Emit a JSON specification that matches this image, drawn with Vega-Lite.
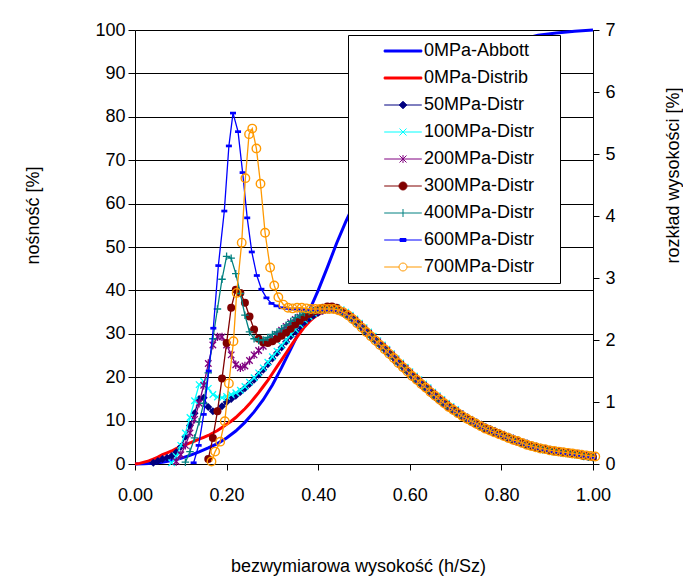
{
"$schema": "https://vega.github.io/schema/vega-lite/v6.json",
"width": 458, "height": 434,
"autosize": {"type": "none"},
"padding": {"left": 135, "top": 30, "right": 90, "bottom": 115},
"background": "white",
"config": {
  "font": "Liberation Sans",
  "view": {"stroke": null},
  "axis": {"labelFont": "Liberation Sans", "titleFont": "Liberation Sans", "labelFontSize": 18, "titleFontSize": 18, "titleFontWeight": "normal", "labelColor": "black", "titleColor": "black", "domainColor": "black", "tickColor": "black", "labelFlush": false, "labelOverlap": false}
},
"data": {"values": [
{"s":"A","x":0,"n":0},{"s":"A","x":0.02,"n":0.03},{"s":"A","x":0.04,"n":0.15},{"s":"A","x":0.06,"n":0.4},{"s":"A","x":0.08,"n":0.8},{"s":"A","x":0.1,"n":1.3},{"s":"A","x":0.12,"n":2.0},{"s":"A","x":0.14,"n":2.8},{"s":"A","x":0.16,"n":3.7},{"s":"A","x":0.18,"n":4.7},{"s":"A","x":0.2,"n":6.0},{"s":"A","x":0.22,"n":7.6},{"s":"A","x":0.24,"n":9.6},{"s":"A","x":0.26,"n":12.0},{"s":"A","x":0.28,"n":14.8},{"s":"A","x":0.3,"n":18.2},{"s":"A","x":0.32,"n":22.2},{"s":"A","x":0.34,"n":26.5},{"s":"A","x":0.36,"n":30.8},{"s":"A","x":0.38,"n":35.2},{"s":"A","x":0.4,"n":40.0},{"s":"A","x":0.42,"n":45.3},{"s":"A","x":0.44,"n":50.8},{"s":"A","x":0.46,"n":55.8},{"s":"A","x":0.48,"n":60.3},{"s":"A","x":0.5,"n":64.5},{"s":"A","x":0.55,"n":73.8},{"s":"A","x":0.6,"n":81.2},{"s":"A","x":0.65,"n":87.0},{"s":"A","x":0.7,"n":91.3},{"s":"A","x":0.75,"n":94.4},{"s":"A","x":0.8,"n":96.6},{"s":"A","x":0.85,"n":98.0},{"s":"A","x":0.88,"n":98.8},{"s":"A","x":0.92,"n":99.3},{"s":"A","x":0.96,"n":99.7},{"s":"A","x":1.0,"n":100},
{"s":"D","x":0,"r":0},{"s":"D","x":0.01,"r":0.01},{"s":"D","x":0.02,"r":0.03},{"s":"D","x":0.03,"r":0.05},{"s":"D","x":0.04,"r":0.08},{"s":"D","x":0.05,"r":0.11},{"s":"D","x":0.06,"r":0.15},{"s":"D","x":0.07,"r":0.18},{"s":"D","x":0.08,"r":0.21},{"s":"D","x":0.09,"r":0.25},{"s":"D","x":0.1,"r":0.28},{"s":"D","x":0.11,"r":0.31},{"s":"D","x":0.12,"r":0.34},{"s":"D","x":0.13,"r":0.37},{"s":"D","x":0.14,"r":0.4},{"s":"D","x":0.15,"r":0.43},{"s":"D","x":0.16,"r":0.46},{"s":"D","x":0.17,"r":0.5},{"s":"D","x":0.18,"r":0.54},{"s":"D","x":0.19,"r":0.59},{"s":"D","x":0.2,"r":0.64},{"s":"D","x":0.21,"r":0.69},{"s":"D","x":0.22,"r":0.75},{"s":"D","x":0.23,"r":0.82},{"s":"D","x":0.24,"r":0.89},{"s":"D","x":0.25,"r":0.97},{"s":"D","x":0.26,"r":1.06},{"s":"D","x":0.27,"r":1.15},{"s":"D","x":0.28,"r":1.25},{"s":"D","x":0.29,"r":1.35},{"s":"D","x":0.3,"r":1.46},{"s":"D","x":0.31,"r":1.57},{"s":"D","x":0.32,"r":1.68},{"s":"D","x":0.33,"r":1.79},{"s":"D","x":0.34,"r":1.9},{"s":"D","x":0.35,"r":2.01},{"s":"D","x":0.36,"r":2.11},{"s":"D","x":0.37,"r":2.21},{"s":"D","x":0.38,"r":2.29},{"s":"D","x":0.39,"r":2.36},{"s":"D","x":0.4,"r":2.41},{"s":"D","x":0.41,"r":2.45},{"s":"D","x":0.42,"r":2.47},{"s":"D","x":0.43,"r":2.48},{"s":"D","x":0.44,"r":2.47},{"s":"D","x":0.45,"r":2.45},{"s":"D","x":0.46,"r":2.41},{"s":"D","x":0.47,"r":2.36},{"s":"D","x":0.48,"r":2.3},{"s":"D","x":0.49,"r":2.23},{"s":"D","x":0.5,"r":2.16},{"s":"D","x":0.51,"r":2.09},{"s":"D","x":0.52,"r":2.02},{"s":"D","x":0.53,"r":1.95},{"s":"D","x":0.54,"r":1.88},{"s":"D","x":0.55,"r":1.81},{"s":"D","x":0.56,"r":1.74},{"s":"D","x":0.57,"r":1.66},{"s":"D","x":0.58,"r":1.58},{"s":"D","x":0.59,"r":1.5},{"s":"D","x":0.6,"r":1.42},{"s":"D","x":0.61,"r":1.34},{"s":"D","x":0.62,"r":1.28},{"s":"D","x":0.63,"r":1.21},{"s":"D","x":0.64,"r":1.15},{"s":"D","x":0.65,"r":1.08},{"s":"D","x":0.66,"r":1.02},{"s":"D","x":0.67,"r":0.96},{"s":"D","x":0.68,"r":0.9},{"s":"D","x":0.69,"r":0.85},{"s":"D","x":0.7,"r":0.8},{"s":"D","x":0.71,"r":0.75},{"s":"D","x":0.72,"r":0.7},{"s":"D","x":0.73,"r":0.66},{"s":"D","x":0.74,"r":0.62},{"s":"D","x":0.75,"r":0.58},{"s":"D","x":0.76,"r":0.54},{"s":"D","x":0.77,"r":0.51},{"s":"D","x":0.78,"r":0.48},{"s":"D","x":0.79,"r":0.45},{"s":"D","x":0.8,"r":0.42},{"s":"D","x":0.81,"r":0.39},{"s":"D","x":0.82,"r":0.36},{"s":"D","x":0.83,"r":0.33},{"s":"D","x":0.84,"r":0.31},{"s":"D","x":0.85,"r":0.28},{"s":"D","x":0.86,"r":0.26},{"s":"D","x":0.87,"r":0.24},{"s":"D","x":0.88,"r":0.22},{"s":"D","x":0.89,"r":0.21},{"s":"D","x":0.9,"r":0.2},{"s":"D","x":0.91,"r":0.19},{"s":"D","x":0.92,"r":0.18},{"s":"D","x":0.93,"r":0.17},{"s":"D","x":0.94,"r":0.16},{"s":"D","x":0.95,"r":0.15},{"s":"D","x":0.96,"r":0.14},{"s":"D","x":0.97,"r":0.13},{"s":"D","x":0.98,"r":0.12},{"s":"D","x":0.99,"r":0.11},{"s":"D","x":1.0,"r":0.1},
{"s":"50","x":0.04,"r":0.02},{"s":"50","x":0.05,"r":0.05},{"s":"50","x":0.06,"r":0.08},{"s":"50","x":0.07,"r":0.1},{"s":"50","x":0.08,"r":0.13},{"s":"50","x":0.09,"r":0.19},{"s":"50","x":0.1,"r":0.28},{"s":"50","x":0.11,"r":0.44},{"s":"50","x":0.12,"r":0.62},{"s":"50","x":0.13,"r":0.82},{"s":"50","x":0.14,"r":1.05},{"s":"50","x":0.15,"r":1.07},{"s":"50","x":0.16,"r":0.92},{"s":"50","x":0.17,"r":0.85},{"s":"50","x":0.18,"r":0.86},{"s":"50","x":0.19,"r":0.93},{"s":"50","x":0.2,"r":1.0},{"s":"50","x":0.21,"r":1.05},{"s":"50","x":0.22,"r":1.1},{"s":"50","x":0.23,"r":1.16},{"s":"50","x":0.24,"r":1.22},{"s":"50","x":0.25,"r":1.29},{"s":"50","x":0.26,"r":1.36},{"s":"50","x":0.27,"r":1.44},{"s":"50","x":0.28,"r":1.52},{"s":"50","x":0.29,"r":1.61},{"s":"50","x":0.3,"r":1.7},{"s":"50","x":0.31,"r":1.79},{"s":"50","x":0.32,"r":1.88},{"s":"50","x":0.33,"r":1.97},{"s":"50","x":0.34,"r":2.06},{"s":"50","x":0.35,"r":2.14},{"s":"50","x":0.36,"r":2.22},{"s":"50","x":0.37,"r":2.29},{"s":"50","x":0.38,"r":2.35},{"s":"50","x":0.39,"r":2.4},{"s":"50","x":0.4,"r":2.44},{"s":"50","x":0.41,"r":2.47},{"s":"50","x":0.42,"r":2.49},{"s":"50","x":0.43,"r":2.5},{"s":"50","x":0.44,"r":2.49},{"s":"50","x":0.45,"r":2.46},{"s":"50","x":0.46,"r":2.42},{"s":"50","x":0.47,"r":2.37},{"s":"50","x":0.48,"r":2.31},{"s":"50","x":0.49,"r":2.24},{"s":"50","x":0.5,"r":2.17},{"s":"50","x":0.51,"r":2.1},{"s":"50","x":0.52,"r":2.03},{"s":"50","x":0.53,"r":1.96},{"s":"50","x":0.54,"r":1.89},{"s":"50","x":0.55,"r":1.82},{"s":"50","x":0.56,"r":1.75},{"s":"50","x":0.57,"r":1.67},{"s":"50","x":0.58,"r":1.6},{"s":"50","x":0.59,"r":1.53},{"s":"50","x":0.6,"r":1.46},{"s":"50","x":0.61,"r":1.39},{"s":"50","x":0.62,"r":1.33},{"s":"50","x":0.63,"r":1.26},{"s":"50","x":0.64,"r":1.2},{"s":"50","x":0.65,"r":1.13},{"s":"50","x":0.66,"r":1.07},{"s":"50","x":0.67,"r":1.01},{"s":"50","x":0.68,"r":0.95},{"s":"50","x":0.69,"r":0.9},{"s":"50","x":0.7,"r":0.85},{"s":"50","x":0.71,"r":0.8},{"s":"50","x":0.72,"r":0.75},{"s":"50","x":0.73,"r":0.71},{"s":"50","x":0.74,"r":0.67},{"s":"50","x":0.75,"r":0.63},{"s":"50","x":0.76,"r":0.59},{"s":"50","x":0.77,"r":0.56},{"s":"50","x":0.78,"r":0.53},{"s":"50","x":0.79,"r":0.5},{"s":"50","x":0.8,"r":0.47},{"s":"50","x":0.81,"r":0.44},{"s":"50","x":0.82,"r":0.41},{"s":"50","x":0.83,"r":0.38},{"s":"50","x":0.84,"r":0.35},{"s":"50","x":0.85,"r":0.33},{"s":"50","x":0.86,"r":0.3},{"s":"50","x":0.87,"r":0.28},{"s":"50","x":0.88,"r":0.26},{"s":"50","x":0.89,"r":0.24},{"s":"50","x":0.9,"r":0.23},{"s":"50","x":0.91,"r":0.21},{"s":"50","x":0.92,"r":0.2},{"s":"50","x":0.93,"r":0.19},{"s":"50","x":0.94,"r":0.18},{"s":"50","x":0.95,"r":0.17},{"s":"50","x":0.96,"r":0.16},{"s":"50","x":0.97,"r":0.15},{"s":"50","x":0.98,"r":0.13},{"s":"50","x":0.99,"r":0.12},{"s":"50","x":1.0,"r":0.11},
{"s":"100","x":0.08,"r":0.02},{"s":"100","x":0.09,"r":0.12},{"s":"100","x":0.1,"r":0.3},{"s":"100","x":0.11,"r":0.5},{"s":"100","x":0.12,"r":0.75},{"s":"100","x":0.13,"r":1.02},{"s":"100","x":0.14,"r":1.28},{"s":"100","x":0.15,"r":1.33},{"s":"100","x":0.16,"r":1.22},{"s":"100","x":0.17,"r":1.12},{"s":"100","x":0.18,"r":1.08},{"s":"100","x":0.19,"r":1.07},{"s":"100","x":0.2,"r":1.09},{"s":"100","x":0.21,"r":1.12},{"s":"100","x":0.22,"r":1.15},{"s":"100","x":0.23,"r":1.19},{"s":"100","x":0.24,"r":1.25},{"s":"100","x":0.25,"r":1.32},{"s":"100","x":0.26,"r":1.39},{"s":"100","x":0.27,"r":1.47},{"s":"100","x":0.28,"r":1.55},{"s":"100","x":0.29,"r":1.64},{"s":"100","x":0.3,"r":1.73},{"s":"100","x":0.31,"r":1.82},{"s":"100","x":0.32,"r":1.91},{"s":"100","x":0.33,"r":2.0},{"s":"100","x":0.34,"r":2.09},{"s":"100","x":0.35,"r":2.17},{"s":"100","x":0.36,"r":2.25},{"s":"100","x":0.37,"r":2.32},{"s":"100","x":0.38,"r":2.38},{"s":"100","x":0.39,"r":2.43},{"s":"100","x":0.4,"r":2.47},{"s":"100","x":0.41,"r":2.5},{"s":"100","x":0.42,"r":2.52},{"s":"100","x":0.43,"r":2.53},{"s":"100","x":0.44,"r":2.52},{"s":"100","x":0.45,"r":2.49},{"s":"100","x":0.46,"r":2.45},{"s":"100","x":0.47,"r":2.4},{"s":"100","x":0.48,"r":2.34},{"s":"100","x":0.49,"r":2.27},{"s":"100","x":0.5,"r":2.2},{"s":"100","x":0.51,"r":2.13},{"s":"100","x":0.52,"r":2.06},{"s":"100","x":0.53,"r":1.99},{"s":"100","x":0.54,"r":1.92},{"s":"100","x":0.55,"r":1.85},{"s":"100","x":0.56,"r":1.78},{"s":"100","x":0.57,"r":1.7},{"s":"100","x":0.58,"r":1.63},{"s":"100","x":0.59,"r":1.56},{"s":"100","x":0.6,"r":1.49},{"s":"100","x":0.61,"r":1.42},{"s":"100","x":0.62,"r":1.36},{"s":"100","x":0.63,"r":1.29},{"s":"100","x":0.64,"r":1.23},{"s":"100","x":0.65,"r":1.16},{"s":"100","x":0.66,"r":1.1},{"s":"100","x":0.67,"r":1.04},{"s":"100","x":0.68,"r":0.98},{"s":"100","x":0.69,"r":0.93},{"s":"100","x":0.7,"r":0.88},{"s":"100","x":0.71,"r":0.81},{"s":"100","x":0.72,"r":0.76},{"s":"100","x":0.73,"r":0.72},{"s":"100","x":0.74,"r":0.68},{"s":"100","x":0.75,"r":0.64},{"s":"100","x":0.76,"r":0.6},{"s":"100","x":0.77,"r":0.57},{"s":"100","x":0.78,"r":0.54},{"s":"100","x":0.79,"r":0.51},{"s":"100","x":0.8,"r":0.48},{"s":"100","x":0.81,"r":0.45},{"s":"100","x":0.82,"r":0.42},{"s":"100","x":0.83,"r":0.39},{"s":"100","x":0.84,"r":0.36},{"s":"100","x":0.85,"r":0.34},{"s":"100","x":0.86,"r":0.31},{"s":"100","x":0.87,"r":0.29},{"s":"100","x":0.88,"r":0.27},{"s":"100","x":0.89,"r":0.25},{"s":"100","x":0.9,"r":0.24},{"s":"100","x":0.91,"r":0.22},{"s":"100","x":0.92,"r":0.21},{"s":"100","x":0.93,"r":0.2},{"s":"100","x":0.94,"r":0.19},{"s":"100","x":0.95,"r":0.18},{"s":"100","x":0.96,"r":0.17},{"s":"100","x":0.97,"r":0.16},{"s":"100","x":0.98,"r":0.14},{"s":"100","x":0.99,"r":0.13},{"s":"100","x":1.0,"r":0.12},
{"s":"200","x":0.09,"r":0.04},{"s":"200","x":0.1,"r":0.15},{"s":"200","x":0.11,"r":0.3},{"s":"200","x":0.12,"r":0.5},{"s":"200","x":0.13,"r":0.72},{"s":"200","x":0.14,"r":0.98},{"s":"200","x":0.15,"r":1.27},{"s":"200","x":0.16,"r":1.62},{"s":"200","x":0.17,"r":1.92},{"s":"200","x":0.18,"r":2.05},{"s":"200","x":0.19,"r":2.05},{"s":"200","x":0.2,"r":1.92},{"s":"200","x":0.21,"r":1.76},{"s":"200","x":0.22,"r":1.6},{"s":"200","x":0.23,"r":1.55},{"s":"200","x":0.24,"r":1.58},{"s":"200","x":0.25,"r":1.67},{"s":"200","x":0.26,"r":1.76},{"s":"200","x":0.27,"r":1.83},{"s":"200","x":0.28,"r":1.9},{"s":"200","x":0.29,"r":1.97},{"s":"200","x":0.3,"r":2.03},{"s":"200","x":0.31,"r":2.09},{"s":"200","x":0.32,"r":2.16},{"s":"200","x":0.33,"r":2.22},{"s":"200","x":0.34,"r":2.28},{"s":"200","x":0.35,"r":2.33},{"s":"200","x":0.36,"r":2.37},{"s":"200","x":0.37,"r":2.41},{"s":"200","x":0.38,"r":2.44},{"s":"200","x":0.39,"r":2.46},{"s":"200","x":0.4,"r":2.47},{"s":"200","x":0.41,"r":2.48},{"s":"200","x":0.42,"r":2.5},{"s":"200","x":0.43,"r":2.5},{"s":"200","x":0.44,"r":2.49},{"s":"200","x":0.45,"r":2.47},{"s":"200","x":0.46,"r":2.43},{"s":"200","x":0.47,"r":2.38},{"s":"200","x":0.48,"r":2.32},{"s":"200","x":0.49,"r":2.25},{"s":"200","x":0.5,"r":2.18},{"s":"200","x":0.51,"r":2.11},{"s":"200","x":0.52,"r":2.04},{"s":"200","x":0.53,"r":1.97},{"s":"200","x":0.54,"r":1.9},{"s":"200","x":0.55,"r":1.83},{"s":"200","x":0.56,"r":1.76},{"s":"200","x":0.57,"r":1.68},{"s":"200","x":0.58,"r":1.61},{"s":"200","x":0.59,"r":1.54},{"s":"200","x":0.6,"r":1.47},{"s":"200","x":0.61,"r":1.4},{"s":"200","x":0.62,"r":1.34},{"s":"200","x":0.63,"r":1.27},{"s":"200","x":0.64,"r":1.21},{"s":"200","x":0.65,"r":1.14},{"s":"200","x":0.66,"r":1.08},{"s":"200","x":0.67,"r":1.02},{"s":"200","x":0.68,"r":0.96},{"s":"200","x":0.69,"r":0.91},{"s":"200","x":0.7,"r":0.86},{"s":"200","x":0.71,"r":0.81},{"s":"200","x":0.72,"r":0.76},{"s":"200","x":0.73,"r":0.72},{"s":"200","x":0.74,"r":0.68},{"s":"200","x":0.75,"r":0.64},{"s":"200","x":0.76,"r":0.6},{"s":"200","x":0.77,"r":0.57},{"s":"200","x":0.78,"r":0.54},{"s":"200","x":0.79,"r":0.51},{"s":"200","x":0.8,"r":0.48},{"s":"200","x":0.81,"r":0.45},{"s":"200","x":0.82,"r":0.42},{"s":"200","x":0.83,"r":0.39},{"s":"200","x":0.84,"r":0.36},{"s":"200","x":0.85,"r":0.34},{"s":"200","x":0.86,"r":0.31},{"s":"200","x":0.87,"r":0.29},{"s":"200","x":0.88,"r":0.27},{"s":"200","x":0.89,"r":0.25},{"s":"200","x":0.9,"r":0.24},{"s":"200","x":0.91,"r":0.22},{"s":"200","x":0.92,"r":0.21},{"s":"200","x":0.93,"r":0.2},{"s":"200","x":0.94,"r":0.19},{"s":"200","x":0.95,"r":0.18},{"s":"200","x":0.96,"r":0.17},{"s":"200","x":0.97,"r":0.16},{"s":"200","x":0.98,"r":0.14},{"s":"200","x":0.99,"r":0.13},{"s":"200","x":1.0,"r":0.12},
{"s":"300","x":0.16,"r":0.08},{"s":"300","x":0.17,"r":0.42},{"s":"300","x":0.18,"r":0.85},{"s":"300","x":0.19,"r":1.38},{"s":"300","x":0.2,"r":1.95},{"s":"300","x":0.21,"r":2.52},{"s":"300","x":0.22,"r":2.81},{"s":"300","x":0.23,"r":2.76},{"s":"300","x":0.24,"r":2.6},{"s":"300","x":0.25,"r":2.38},{"s":"300","x":0.26,"r":2.17},{"s":"300","x":0.27,"r":2.02},{"s":"300","x":0.28,"r":1.96},{"s":"300","x":0.29,"r":1.95},{"s":"300","x":0.3,"r":1.98},{"s":"300","x":0.31,"r":2.02},{"s":"300","x":0.32,"r":2.07},{"s":"300","x":0.33,"r":2.12},{"s":"300","x":0.34,"r":2.18},{"s":"300","x":0.35,"r":2.25},{"s":"300","x":0.36,"r":2.31},{"s":"300","x":0.37,"r":2.37},{"s":"300","x":0.38,"r":2.42},{"s":"300","x":0.39,"r":2.46},{"s":"300","x":0.4,"r":2.49},{"s":"300","x":0.41,"r":2.52},{"s":"300","x":0.42,"r":2.54},{"s":"300","x":0.43,"r":2.54},{"s":"300","x":0.44,"r":2.52},{"s":"300","x":0.45,"r":2.46},{"s":"300","x":0.46,"r":2.42},{"s":"300","x":0.47,"r":2.37},{"s":"300","x":0.48,"r":2.31},{"s":"300","x":0.49,"r":2.24},{"s":"300","x":0.5,"r":2.17},{"s":"300","x":0.51,"r":2.1},{"s":"300","x":0.52,"r":2.03},{"s":"300","x":0.53,"r":1.96},{"s":"300","x":0.54,"r":1.89},{"s":"300","x":0.55,"r":1.82},{"s":"300","x":0.56,"r":1.75},{"s":"300","x":0.57,"r":1.67},{"s":"300","x":0.58,"r":1.6},{"s":"300","x":0.59,"r":1.53},{"s":"300","x":0.6,"r":1.46},{"s":"300","x":0.61,"r":1.39},{"s":"300","x":0.62,"r":1.33},{"s":"300","x":0.63,"r":1.26},{"s":"300","x":0.64,"r":1.2},{"s":"300","x":0.65,"r":1.13},{"s":"300","x":0.66,"r":1.07},{"s":"300","x":0.67,"r":1.01},{"s":"300","x":0.68,"r":0.95},{"s":"300","x":0.69,"r":0.9},{"s":"300","x":0.7,"r":0.85},{"s":"300","x":0.71,"r":0.8},{"s":"300","x":0.72,"r":0.75},{"s":"300","x":0.73,"r":0.71},{"s":"300","x":0.74,"r":0.67},{"s":"300","x":0.75,"r":0.63},{"s":"300","x":0.76,"r":0.59},{"s":"300","x":0.77,"r":0.56},{"s":"300","x":0.78,"r":0.53},{"s":"300","x":0.79,"r":0.5},{"s":"300","x":0.8,"r":0.47},{"s":"300","x":0.81,"r":0.44},{"s":"300","x":0.82,"r":0.41},{"s":"300","x":0.83,"r":0.38},{"s":"300","x":0.84,"r":0.35},{"s":"300","x":0.85,"r":0.33},{"s":"300","x":0.86,"r":0.3},{"s":"300","x":0.87,"r":0.28},{"s":"300","x":0.88,"r":0.26},{"s":"300","x":0.89,"r":0.24},{"s":"300","x":0.9,"r":0.23},{"s":"300","x":0.91,"r":0.21},{"s":"300","x":0.92,"r":0.2},{"s":"300","x":0.93,"r":0.19},{"s":"300","x":0.94,"r":0.18},{"s":"300","x":0.95,"r":0.17},{"s":"300","x":0.96,"r":0.16},{"s":"300","x":0.97,"r":0.15},{"s":"300","x":0.98,"r":0.13},{"s":"300","x":0.99,"r":0.12},{"s":"300","x":1.0,"r":0.11},
{"s":"400","x":0.11,"r":0.03},{"s":"400","x":0.12,"r":0.2},{"s":"400","x":0.13,"r":0.42},{"s":"400","x":0.14,"r":0.68},{"s":"400","x":0.15,"r":0.98},{"s":"400","x":0.16,"r":1.47},{"s":"400","x":0.17,"r":2.02},{"s":"400","x":0.18,"r":2.5},{"s":"400","x":0.19,"r":2.98},{"s":"400","x":0.2,"r":3.35},{"s":"400","x":0.21,"r":3.32},{"s":"400","x":0.22,"r":3.07},{"s":"400","x":0.23,"r":2.75},{"s":"400","x":0.24,"r":2.4},{"s":"400","x":0.25,"r":2.13},{"s":"400","x":0.26,"r":2.02},{"s":"400","x":0.27,"r":1.99},{"s":"400","x":0.28,"r":2.0},{"s":"400","x":0.29,"r":2.04},{"s":"400","x":0.3,"r":2.09},{"s":"400","x":0.31,"r":2.13},{"s":"400","x":0.32,"r":2.18},{"s":"400","x":0.33,"r":2.24},{"s":"400","x":0.34,"r":2.3},{"s":"400","x":0.35,"r":2.36},{"s":"400","x":0.36,"r":2.4},{"s":"400","x":0.37,"r":2.44},{"s":"400","x":0.38,"r":2.46},{"s":"400","x":0.39,"r":2.47},{"s":"400","x":0.4,"r":2.48},{"s":"400","x":0.41,"r":2.49},{"s":"400","x":0.42,"r":2.5},{"s":"400","x":0.43,"r":2.5},{"s":"400","x":0.44,"r":2.49},{"s":"400","x":0.45,"r":2.45},{"s":"400","x":0.46,"r":2.41},{"s":"400","x":0.47,"r":2.36},{"s":"400","x":0.48,"r":2.3},{"s":"400","x":0.49,"r":2.23},{"s":"400","x":0.5,"r":2.16},{"s":"400","x":0.51,"r":2.09},{"s":"400","x":0.52,"r":2.02},{"s":"400","x":0.53,"r":1.95},{"s":"400","x":0.54,"r":1.88},{"s":"400","x":0.55,"r":1.81},{"s":"400","x":0.56,"r":1.74},{"s":"400","x":0.57,"r":1.66},{"s":"400","x":0.58,"r":1.59},{"s":"400","x":0.59,"r":1.52},{"s":"400","x":0.6,"r":1.45},{"s":"400","x":0.61,"r":1.38},{"s":"400","x":0.62,"r":1.32},{"s":"400","x":0.63,"r":1.25},{"s":"400","x":0.64,"r":1.19},{"s":"400","x":0.65,"r":1.12},{"s":"400","x":0.66,"r":1.06},{"s":"400","x":0.67,"r":1.0},{"s":"400","x":0.68,"r":0.94},{"s":"400","x":0.69,"r":0.89},{"s":"400","x":0.7,"r":0.84},{"s":"400","x":0.71,"r":0.79},{"s":"400","x":0.72,"r":0.74},{"s":"400","x":0.73,"r":0.7},{"s":"400","x":0.74,"r":0.66},{"s":"400","x":0.75,"r":0.62},{"s":"400","x":0.76,"r":0.58},{"s":"400","x":0.77,"r":0.55},{"s":"400","x":0.78,"r":0.52},{"s":"400","x":0.79,"r":0.49},{"s":"400","x":0.8,"r":0.46},{"s":"400","x":0.81,"r":0.43},{"s":"400","x":0.82,"r":0.4},{"s":"400","x":0.83,"r":0.37},{"s":"400","x":0.84,"r":0.34},{"s":"400","x":0.85,"r":0.32},{"s":"400","x":0.86,"r":0.29},{"s":"400","x":0.87,"r":0.27},{"s":"400","x":0.88,"r":0.25},{"s":"400","x":0.89,"r":0.23},{"s":"400","x":0.9,"r":0.22},{"s":"400","x":0.91,"r":0.2},{"s":"400","x":0.92,"r":0.19},{"s":"400","x":0.93,"r":0.18},{"s":"400","x":0.94,"r":0.17},{"s":"400","x":0.95,"r":0.16},{"s":"400","x":0.96,"r":0.15},{"s":"400","x":0.97,"r":0.14},{"s":"400","x":0.98,"r":0.12},{"s":"400","x":0.99,"r":0.11},{"s":"400","x":1.0,"r":0.1},
{"s":"600","x":0.128,"r":0.02},{"s":"600","x":0.139,"r":0.3},{"s":"600","x":0.15,"r":0.8},{"s":"600","x":0.161,"r":1.5},{"s":"600","x":0.171,"r":2.19},{"s":"600","x":0.182,"r":3.2},{"s":"600","x":0.195,"r":4.08},{"s":"600","x":0.205,"r":5.13},{"s":"600","x":0.214,"r":5.66},{"s":"600","x":0.225,"r":5.36},{"s":"600","x":0.235,"r":4.7},{"s":"600","x":0.245,"r":3.97},{"s":"600","x":0.255,"r":3.42},{"s":"600","x":0.266,"r":3.04},{"s":"600","x":0.276,"r":2.82},{"s":"600","x":0.287,"r":2.68},{"s":"600","x":0.298,"r":2.59},{"s":"600","x":0.309,"r":2.55},{"s":"600","x":0.32,"r":2.52},{"s":"600","x":0.33,"r":2.51},{"s":"600","x":0.34,"r":2.5},{"s":"600","x":0.35,"r":2.5},{"s":"600","x":0.36,"r":2.49},{"s":"600","x":0.37,"r":2.49},{"s":"600","x":0.38,"r":2.49},{"s":"600","x":0.39,"r":2.49},{"s":"600","x":0.4,"r":2.49},{"s":"600","x":0.41,"r":2.49},{"s":"600","x":0.42,"r":2.49},{"s":"600","x":0.43,"r":2.49},{"s":"600","x":0.44,"r":2.48},{"s":"600","x":0.45,"r":2.45},{"s":"600","x":0.46,"r":2.41},{"s":"600","x":0.47,"r":2.36},{"s":"600","x":0.48,"r":2.3},{"s":"600","x":0.49,"r":2.23},{"s":"600","x":0.5,"r":2.16},{"s":"600","x":0.51,"r":2.09},{"s":"600","x":0.52,"r":2.02},{"s":"600","x":0.53,"r":1.95},{"s":"600","x":0.54,"r":1.88},{"s":"600","x":0.55,"r":1.81},{"s":"600","x":0.56,"r":1.74},{"s":"600","x":0.57,"r":1.66},{"s":"600","x":0.58,"r":1.59},{"s":"600","x":0.59,"r":1.52},{"s":"600","x":0.6,"r":1.45},{"s":"600","x":0.61,"r":1.38},{"s":"600","x":0.62,"r":1.32},{"s":"600","x":0.63,"r":1.25},{"s":"600","x":0.64,"r":1.19},{"s":"600","x":0.65,"r":1.12},{"s":"600","x":0.66,"r":1.06},{"s":"600","x":0.67,"r":1.0},{"s":"600","x":0.68,"r":0.94},{"s":"600","x":0.69,"r":0.89},{"s":"600","x":0.7,"r":0.84},{"s":"600","x":0.71,"r":0.79},{"s":"600","x":0.72,"r":0.74},{"s":"600","x":0.73,"r":0.7},{"s":"600","x":0.74,"r":0.66},{"s":"600","x":0.75,"r":0.62},{"s":"600","x":0.76,"r":0.58},{"s":"600","x":0.77,"r":0.55},{"s":"600","x":0.78,"r":0.52},{"s":"600","x":0.79,"r":0.49},{"s":"600","x":0.8,"r":0.46},{"s":"600","x":0.81,"r":0.43},{"s":"600","x":0.82,"r":0.4},{"s":"600","x":0.83,"r":0.37},{"s":"600","x":0.84,"r":0.34},{"s":"600","x":0.85,"r":0.32},{"s":"600","x":0.86,"r":0.29},{"s":"600","x":0.87,"r":0.27},{"s":"600","x":0.88,"r":0.25},{"s":"600","x":0.89,"r":0.23},{"s":"600","x":0.9,"r":0.22},{"s":"600","x":0.91,"r":0.2},{"s":"600","x":0.92,"r":0.19},{"s":"600","x":0.93,"r":0.18},{"s":"600","x":0.94,"r":0.17},{"s":"600","x":0.95,"r":0.16},{"s":"600","x":0.96,"r":0.15},{"s":"600","x":0.97,"r":0.14},{"s":"600","x":0.98,"r":0.12},{"s":"600","x":0.99,"r":0.11},{"s":"600","x":1.0,"r":0.1},
{"s":"700","x":0.167,"r":0.04},{"s":"700","x":0.175,"r":0.2},{"s":"700","x":0.186,"r":0.36},{"s":"700","x":0.196,"r":0.69},{"s":"700","x":0.205,"r":1.3},{"s":"700","x":0.215,"r":1.98},{"s":"700","x":0.222,"r":2.76},{"s":"700","x":0.233,"r":3.57},{"s":"700","x":0.241,"r":4.61},{"s":"700","x":0.249,"r":5.32},{"s":"700","x":0.256,"r":5.41},{"s":"700","x":0.265,"r":5.09},{"s":"700","x":0.274,"r":4.52},{"s":"700","x":0.284,"r":3.73},{"s":"700","x":0.295,"r":3.17},{"s":"700","x":0.304,"r":2.88},{"s":"700","x":0.313,"r":2.69},{"s":"700","x":0.324,"r":2.57},{"s":"700","x":0.334,"r":2.52},{"s":"700","x":0.344,"r":2.51},{"s":"700","x":0.354,"r":2.52},{"s":"700","x":0.364,"r":2.52},{"s":"700","x":0.374,"r":2.51},{"s":"700","x":0.384,"r":2.5},{"s":"700","x":0.394,"r":2.5},{"s":"700","x":0.404,"r":2.5},{"s":"700","x":0.414,"r":2.5},{"s":"700","x":0.424,"r":2.5},{"s":"700","x":0.434,"r":2.5},{"s":"700","x":0.444,"r":2.48},{"s":"700","x":0.454,"r":2.45},{"s":"700","x":0.465,"r":2.4},{"s":"700","x":0.475,"r":2.34},{"s":"700","x":0.485,"r":2.27},{"s":"700","x":0.495,"r":2.2},{"s":"700","x":0.505,"r":2.13},{"s":"700","x":0.515,"r":2.06},{"s":"700","x":0.525,"r":1.99},{"s":"700","x":0.535,"r":1.92},{"s":"700","x":0.545,"r":1.85},{"s":"700","x":0.555,"r":1.78},{"s":"700","x":0.565,"r":1.71},{"s":"700","x":0.575,"r":1.63},{"s":"700","x":0.585,"r":1.56},{"s":"700","x":0.595,"r":1.49},{"s":"700","x":0.605,"r":1.42},{"s":"700","x":0.615,"r":1.36},{"s":"700","x":0.625,"r":1.29},{"s":"700","x":0.635,"r":1.23},{"s":"700","x":0.645,"r":1.16},{"s":"700","x":0.655,"r":1.1},{"s":"700","x":0.665,"r":1.04},{"s":"700","x":0.675,"r":0.98},{"s":"700","x":0.685,"r":0.92},{"s":"700","x":0.695,"r":0.87},{"s":"700","x":0.705,"r":0.82},{"s":"700","x":0.715,"r":0.77},{"s":"700","x":0.725,"r":0.73},{"s":"700","x":0.735,"r":0.69},{"s":"700","x":0.745,"r":0.65},{"s":"700","x":0.755,"r":0.61},{"s":"700","x":0.765,"r":0.57},{"s":"700","x":0.775,"r":0.54},{"s":"700","x":0.785,"r":0.51},{"s":"700","x":0.795,"r":0.48},{"s":"700","x":0.805,"r":0.45},{"s":"700","x":0.815,"r":0.42},{"s":"700","x":0.825,"r":0.39},{"s":"700","x":0.835,"r":0.37},{"s":"700","x":0.845,"r":0.34},{"s":"700","x":0.855,"r":0.31},{"s":"700","x":0.865,"r":0.29},{"s":"700","x":0.875,"r":0.27},{"s":"700","x":0.885,"r":0.25},{"s":"700","x":0.895,"r":0.24},{"s":"700","x":0.905,"r":0.22},{"s":"700","x":0.915,"r":0.21},{"s":"700","x":0.925,"r":0.2},{"s":"700","x":0.935,"r":0.19},{"s":"700","x":0.945,"r":0.18},{"s":"700","x":0.955,"r":0.17},{"s":"700","x":0.965,"r":0.16},{"s":"700","x":0.975,"r":0.15},{"s":"700","x":0.985,"r":0.14},{"s":"700","x":0.995,"r":0.13},{"s":"700","x":1.005,"r":0.12}
]},
"encoding": {
  "x": {"field": "x", "type": "quantitative", "scale": {"domain": [0, 1], "nice": false, "zero": false},
    "axis": {"values": [0, 0.2, 0.4, 0.6, 0.8, 1], "format": ".2f", "grid": false, "tickSize": 6, "labelPadding": 16, "title": "bezwymiarowa wysokość (h/Sz)", "titleX": 223, "titleY": 102, "titleAlign": "center", "titleBaseline": "middle"}}
},
"layer": [
  {"transform": [{"filter": "datum.s == 'A'"}],
   "mark": {"type": "line", "color": "#0000FF", "strokeWidth": 3},
   "encoding": {"y": {"field": "n", "type": "quantitative", "scale": {"domain": [0, 100], "nice": false},
     "axis": {"orient": "left", "values": [0,10,20,30,40,50,60,70,80,90,100], "grid": true, "gridColor": "black", "gridWidth": 1, "gridOpacity": 1, "tickSize": 7, "labelPadding": 3, "title": "nośność [%]", "titleAngle": -90, "titleX": -102, "titleY": 185, "titleAlign": "center", "titleBaseline": "middle"}}}},
  {"encoding": {"y": {"field": "r", "type": "quantitative", "scale": {"domain": [0, 7], "nice": false},
     "axis": {"orient": "right", "values": [0,1,2,3,4,5,6,7], "grid": false, "tickSize": 6, "labelPadding": 6, "title": "rozkład wysokości  [%]", "titleAngle": -90, "titleX": 80, "titleY": 145, "titleAlign": "center", "titleBaseline": "middle"}}},
   "layer": [
    {"transform": [{"filter": "datum.s == 'D'"}], "mark": {"type": "line", "color": "#FF0000", "strokeWidth": 3}},
    {"transform": [{"filter": "datum.s == '50'"}], "mark": {"type": "line", "color": "#000080", "strokeWidth": 1.3, "point": {"shape": "diamond", "filled": true, "size": 64, "color": "#000080"}}},
    {"transform": [{"filter": "datum.s == '100'"}], "mark": {"type": "line", "color": "#00FFFF", "strokeWidth": 1.3, "point": {"shape": "M-1,-1L1,1M-1,1L1,-1", "filled": false, "size": 42, "color": "#00FFFF", "strokeWidth": 1.3}}},
    {"transform": [{"filter": "datum.s == '200'"}], "mark": {"type": "line", "color": "#800080", "strokeWidth": 1.3, "point": {"shape": "M-1,-1L1,1M-1,1L1,-1M0,-1.3V1.3", "filled": false, "size": 42, "color": "#800080", "strokeWidth": 1.3}}},
    {"transform": [{"filter": "datum.s == '300'"}], "mark": {"type": "line", "color": "#800000", "strokeWidth": 1.3, "point": {"shape": "circle", "filled": true, "size": 64, "color": "#800000"}}},
    {"transform": [{"filter": "datum.s == '400'"}], "mark": {"type": "line", "color": "#008080", "strokeWidth": 1.3, "point": {"shape": "M-1,0H1M0,-1V1", "filled": false, "size": 56, "color": "#008080", "strokeWidth": 1.3}}},
    {"transform": [{"filter": "datum.s == '600'"}], "mark": {"type": "line", "color": "#0000FF", "strokeWidth": 1.3, "point": {"shape": "M-1,-0.45H1V0.45H-1Z", "filled": true, "size": 36, "color": "#0000FF"}}},
    {"transform": [{"filter": "datum.s == '700'"}], "mark": {"type": "line", "color": "#FF9900", "strokeWidth": 1.3, "point": {"shape": "circle", "filled": false, "size": 72, "color": "#FF9900", "strokeWidth": 1.4}}},
    {"mark": {"type": "point", "opacity": 0, "filled": true},
     "encoding": {
       "fill": {"field": "s", "type": "nominal", "scale": {"domain": ["A","D","50","100","200","300","400","600","700"], "range": ["#0000FF","#FF0000","#000080","#00FFFF","#800080","#800000","#008080","#0000FF","#FFFFFF"]},
         "legend": {"orient": "none", "legendX": 213, "legendY": 5, "zindex": 1, "title": null, "fillColor": "white", "strokeColor": "black", "padding": 7, "labelFont": "Liberation Sans", "labelFontSize": 18, "labelColor": "black", "labelOffset": 51, "rowPadding": 9, "symbolSize": 100, "symbolStrokeWidth": 1, "symbolOpacity": 1, "labelExpr": "datum.label == 'A' ? '0MPa-Abbott' : datum.label == 'D' ? '0MPa-Distrib' : datum.label + 'MPa-Distr'"}},
       "stroke": {"field": "s", "type": "nominal", "scale": {"domain": ["A","D","50","100","200","300","400","600","700"], "range": ["#0000FF","#FF0000","#000080","#00FFFF","#800080","#800000","#008080","#0000FF","#FF9900"]},
         "legend": {"orient": "none", "legendX": 213, "legendY": 5, "zindex": 1, "title": null, "fillColor": "white", "strokeColor": "black", "padding": 7, "labelFont": "Liberation Sans", "labelFontSize": 18, "labelColor": "black", "labelOffset": 51, "rowPadding": 9, "symbolSize": 100, "symbolStrokeWidth": 1, "symbolOpacity": 1, "labelExpr": "datum.label == 'A' ? '0MPa-Abbott' : datum.label == 'D' ? '0MPa-Distrib' : datum.label + 'MPa-Distr'"}},
       "shape": {"field": "s", "type": "nominal", "scale": {"domain": ["A","D","50","100","200","300","400","600","700"], "range": [
           "M-1.1,0M37.4,0M4.04,-0.2H11.56V0.2H4.04Z",
           "M-1.1,0M37.4,0M4.04,-0.2H11.56V0.2H4.04Z",
           "M-1.1,0M37.4,0M4.04,0H11.56M7.8,-0.75L8.55,0L7.8,0.75L7.05,0Z",
           "M-1.1,0M37.4,0M4.04,0H11.56M7.1,-0.7L8.5,0.7M7.1,0.7L8.5,-0.7",
           "M-1.1,0M37.4,0M4.04,0H11.56M7.1,-0.7L8.5,0.7M7.1,0.7L8.5,-0.7M7.8,-0.8V0.8",
           "M-1.1,0M37.4,0M4.04,0H11.56M7,0A0.8,0.8,0,1,0,8.6,0A0.8,0.8,0,1,0,7,0Z",
           "M-1.1,0M37.4,0M4.04,0H11.56M7.8,-0.8V0.8",
           "M-1.1,0M37.4,0M4.04,0H11.56M7.2,-0.3H8.4V0.3H7.2Z",
           "M-1.1,0M37.4,0M4.04,0H7M8.6,0H11.56M7,0A0.8,0.8,0,1,0,8.6,0A0.8,0.8,0,1,0,7,0Z"]},
         "legend": {"orient": "none", "legendX": 213, "legendY": 5, "zindex": 1, "title": null, "fillColor": "white", "strokeColor": "black", "padding": 7, "labelFont": "Liberation Sans", "labelFontSize": 18, "labelColor": "black", "labelOffset": 51, "rowPadding": 9, "symbolSize": 100, "symbolStrokeWidth": 1, "symbolOpacity": 1, "labelExpr": "datum.label == 'A' ? '0MPa-Abbott' : datum.label == 'D' ? '0MPa-Distrib' : datum.label + 'MPa-Distr'"}}
     }}
   ]}
],
"resolve": {"scale": {"y": "independent"}, "axis": {"y": "independent"}}
}
